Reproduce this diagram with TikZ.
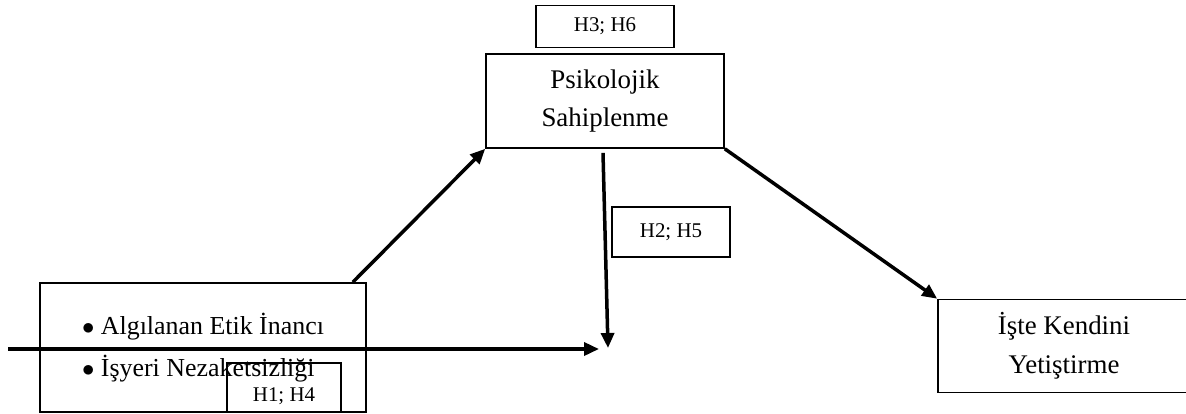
\documentclass[tikz,border=0pt]{standalone}
\usepackage{fontspec}
\setmainfont{Liberation Serif}
\usetikzlibrary{arrows.meta, positioning}

\begin{document}
\begin{tikzpicture}[
    x=1bp, y=-1bp,
    box/.style={rectangle, draw, line width=1.6bp, inner sep=0pt, align=center, font=\fontsize{27}{39}\selectfont},
    tag/.style={box, font=\fontsize{21}{25}\selectfont},
    arrow/.style={-{Triangle[length=15bp,width=13bp]}, line width=3.5bp}
]
\useasboundingbox (0,0) rectangle (1186,413);

% Kutular
\node[box, minimum width=238bp, minimum height=94bp] (psi) at (605,101) {Psikolojik\\Sahiplenme};
\node[tag, minimum width=138bp, minimum height=42bp, above=5bp of psi] (h36) {H3; H6};
\node[box, minimum width=326bp, minimum height=129bp, align=left, font=\fontsize{26}{42}\selectfont] (alg) at (203,347.5) {$\bullet$ Algılanan Etik İnancı\\$\bullet$ İşyeri Nezaketsizliği};
\node[tag, minimum width=114bp, minimum height=49bp, text height=28bp, text depth=0bp, anchor=south east] (h14) at ([xshift=-25bp]alg.south east) {H1; H4};
\node[tag, minimum width=118bp, minimum height=50bp] (h25) at (671,232) {H2; H5};
\node[box, minimum width=252bp, minimum height=93bp] (iste) at (1064,346) {İşte Kendini\\Yetiştirme};

% Oklar
\coordinate (vend) at (608,348);
\coordinate (src) at (8,349);
\coordinate (hend) at (599,349);
\draw[arrow] ([xshift=-14bp]alg.north east) -- (psi.south west);
\draw[arrow] (psi.south east) -- (iste.north west);
\draw[arrow] ([xshift=-2bp,yshift=-4bp]psi.south) -- (vend);
\draw[arrow] (src) -- (hend);

\end{tikzpicture}
\end{document}
